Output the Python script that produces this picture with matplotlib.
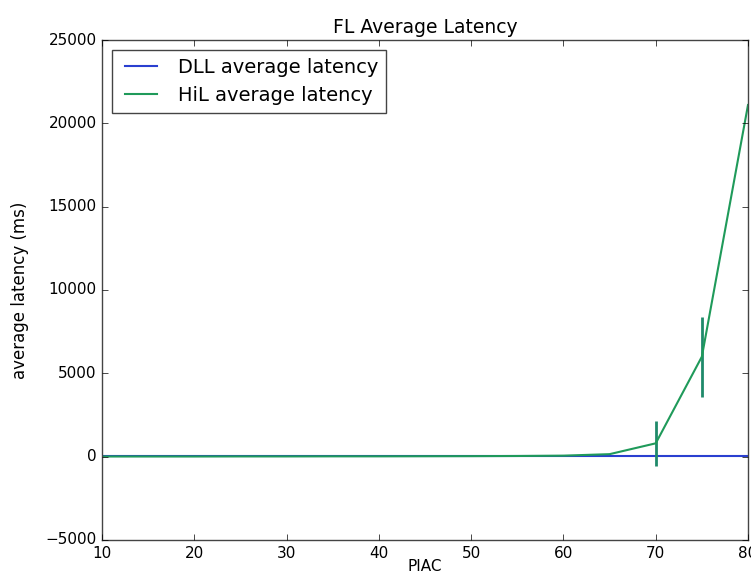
import numpy as np
import matplotlib
matplotlib.use('Agg')
import matplotlib.pyplot as plt
from matplotlib.lines import Line2D

plt.style.use('classic')

# data
piac = [10, 15, 20, 25, 30, 35, 40, 45, 50, 55, 60, 65, 70, 75, 80]
dll_latency = [20, 20, 20, 20, 20, 20, 20, 20, 20, 20, 20, 20, 20, 20, 20]
hil_latency = [10, 10, 10, 15, 15, 20, 20, 25, 30, 40, 60, 150, 800, 6000, 21100]
hil_err = [0, 0, 0, 0, 0, 0, 0, 0, 0, 0, 0, 0, 1350, 2400, 0]

fig = plt.figure(figsize=(7.51, 5.8), dpi=100, facecolor='white')
ax = fig.add_axes([0.136, 0.069, 0.86, 0.862])

dll_color = '#2a3fd0'
hil_color = '#1f9a5a'
ax.plot(piac, dll_latency, color=dll_color, lw=1.5)
ax.errorbar(piac, hil_latency, yerr=hil_err, color=hil_color, ecolor='#1f8a6a',
            lw=1.5, elinewidth=2, capsize=0)

ax.set_xlim(10, 80)
ax.set_ylim(-5000, 25000)
ax.set_xticks(np.arange(10, 81, 10))
ax.set_yticks(np.arange(-5000, 25001, 5000))
ax.tick_params(labelsize=11, direction='in')
for s in ax.spines.values():
    s.set_color('#444444')

ax.set_title('FL Average Latency', fontsize=13.5)
ax.set_xlabel('PIAC', fontsize=11, labelpad=-1)
ax.set_ylabel('average latency (ms)', fontsize=12, labelpad=12)

handles = [Line2D([], [], color=dll_color, lw=1.5),
           Line2D([], [], color=hil_color, lw=1.5)]
leg = ax.legend(handles, ['DLL average latency', 'HiL average latency'],
                loc='upper left', fontsize=14, handlelength=2.2, frameon=True)
leg.get_frame().set_edgecolor('#444444')

fig.savefig('out.png', dpi=100, facecolor='white')
